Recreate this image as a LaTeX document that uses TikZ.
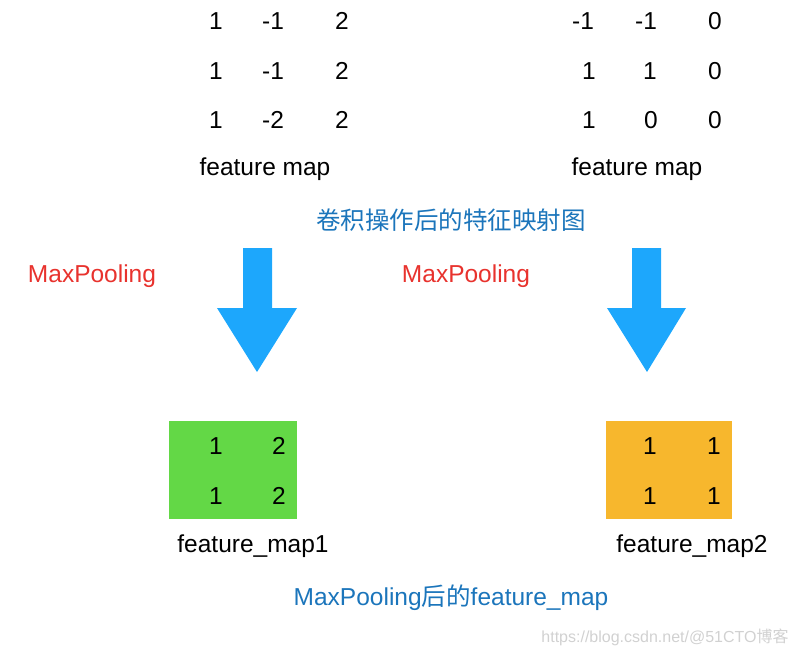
\documentclass[tikz,border=0pt]{standalone}
\usepackage{fontspec}
\setmainfont{Liberation Sans}
\newfontfamily\cjk{Noto Sans CJK SC}
\definecolor{arrowblue}{HTML}{1DA7FC}
\definecolor{titleblue}{HTML}{1B75BB}
\definecolor{poolred}{HTML}{E8322D}
\definecolor{mapgreen}{HTML}{63D846}
\definecolor{maporange}{HTML}{F7B72D}

\begin{document}
\begin{tikzpicture}[x=1pt, y=-1pt, font=\fontsize{24.5}{28}\selectfont,
    num/.style = {anchor=base, inner sep=0pt},
    label/.style = {anchor=base, inner sep=0pt},
    pooltext/.style = {anchor=base, inner sep=0pt, text=poolred},
    title/.style = {anchor=base, inner sep=0pt, text=titleblue},
    box/.style = {anchor=north west, inner sep=0pt, draw=none},
    blockarrow/.style = {fill=arrowblue}]
    \useasboundingbox (0,0) rectangle (796,654);

    % first feature map
    \node[num] (a11) at (216,29) {1};
    \node[num] (a12) at (273,29) {-1};
    \node[num] (a13) at (342,29) {2};
    \node[num] (a21) at (216,79) {1};
    \node[num] (a22) at (273,79) {-1};
    \node[num] (a23) at (342,79) {2};
    \node[num] (a31) at (216,128) {1};
    \node[num] (a32) at (273,128) {-2};
    \node[num] (a33) at (342,128) {2};
    \node[label] (map1) at (265,175) {feature map};

    % second feature map
    \node[num] (b11) at (583,29) {-1};
    \node[num] (b12) at (646,29) {-1};
    \node[num] (b13) at (715,29) {0};
    \node[num] (b21) at (589,79) {1};
    \node[num] (b22) at (650,79) {1};
    \node[num] (b23) at (715,79) {0};
    \node[num] (b31) at (589,128) {1};
    \node[num] (b32) at (651,128) {0};
    \node[num] (b33) at (715,128) {0};
    \node[label] (map2) at (637,175) {feature map};

    \node[title] (convtitle) at (451,229) {\cjk 卷积操作后的特征映射图};

    \node[pooltext] (pool1) at (92,282) {MaxPooling};
    \node[pooltext] (pool2) at (466,282) {MaxPooling};

    % block arrows
    \fill[blockarrow] (243,248) -- (272,248) -- (272,308) -- (297,308)
        -- (257,372) -- (217,308) -- (243,308) -- cycle;
    \fill[blockarrow] (632,248) -- (661,248) -- (661,308) -- (686,308)
        -- (647,372) -- (607,308) -- (632,308) -- cycle;

    % pooled maps
    \node[box, fill=mapgreen, minimum width=128pt, minimum height=98pt] (out1) at (169,421) {};
    \node[num] (c11) at (216,454) {1};
    \node[num] (c12) at (279,454) {2};
    \node[num] (c21) at (216,504) {1};
    \node[num] (c22) at (279,504) {2};
    \node[label] (outmap1) at (253,552) {feature\_map1};

    \node[box, fill=maporange, minimum width=126pt, minimum height=98pt] (out2) at (606,421) {};
    \node[num] (d11) at (650,454) {1};
    \node[num] (d12) at (714,454) {1};
    \node[num] (d21) at (650,504) {1};
    \node[num] (d22) at (714,504) {1};
    \node[label] (outmap2) at (692,552) {feature\_map2};

    \node[title] (pooltitle) at (451,605) {MaxPooling{\cjk 后的}feature\_map};

    \node[label, text=black!18, font=\fontsize{16}{18}\selectfont] (mark) at (665,642) {https://blog.csdn.net/@51CTO{\cjk 博客}};
\end{tikzpicture}
\end{document}
